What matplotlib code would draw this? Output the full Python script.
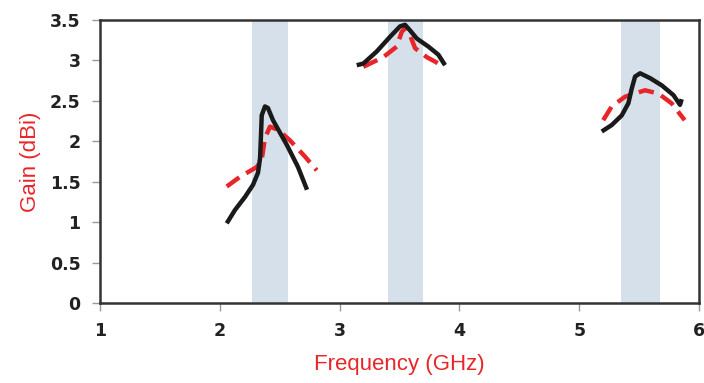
import matplotlib.pyplot as plt
import numpy as np

# Operating bands (GHz)
bands = [(2.27, 2.57), (3.40, 3.70), (5.35, 5.67)]

# Simulated gain (black solid), three segments
sim_f = [
    [2.058, 2.127, 2.210, 2.277, 2.319, 2.336, 2.344, 2.350, 2.377, 2.402,
     2.444, 2.561, 2.653, 2.728],
    [3.143, 3.198, 3.31, 3.42, 3.504, 3.546, 3.588, 3.644, 3.741, 3.824, 3.88],
    [5.188, 5.271, 5.355, 5.41, 5.438, 5.466, 5.508, 5.591, 5.689, 5.786,
     5.841, 5.855],
]
sim_g = [
    [0.985, 1.15, 1.31, 1.46, 1.61, 1.79, 2.08, 2.32, 2.43, 2.41,
     2.26, 1.95, 1.68, 1.40],
    [2.94, 2.96, 3.11, 3.29, 3.42, 3.44, 3.37, 3.27, 3.17, 3.07, 2.94],
    [2.12, 2.20, 2.32, 2.47, 2.65, 2.80, 2.84, 2.78, 2.69, 2.57,
     2.45, 2.52],
]

# Measured gain (red dashed), three segments
meas_f = [
    [2.058, 2.169, 2.308, 2.350, 2.377, 2.419, 2.488, 2.586, 2.711, 2.809],
    [3.198, 3.365, 3.477, 3.518, 3.546, 3.588, 3.63, 3.727, 3.852],
    [5.20, 5.271, 5.382, 5.549, 5.66, 5.77, 5.88],
]
meas_g = [
    [1.44, 1.56, 1.68, 1.77, 2.04, 2.18, 2.14, 2.01, 1.81, 1.64],
    [2.92, 3.04, 3.17, 3.35, 3.40, 3.31, 3.15, 3.04, 2.94],
    [2.26, 2.43, 2.55, 2.63, 2.59, 2.47, 2.26],
]

red = '#e8262a'

fig = plt.figure(figsize=(7.04, 3.83), dpi=100)
ax = fig.add_axes([0.142, 0.209, 0.851, 0.739])

for lo, hi in bands:
    ax.axvspan(lo, hi, ymax=0.995, color='#d5e0ea', zorder=0, lw=0)

for f, g in zip(meas_f, meas_g):
    ax.plot(f, g, color=red, lw=3.2, ls=(0, (3.5, 1.8)), zorder=2,
            dash_joinstyle='round')
for f, g in zip(sim_f, sim_g):
    ax.plot(f, g, color='#1a1a1a', lw=3.2, zorder=3,
            solid_joinstyle='round', solid_capstyle='butt')

ax.set_xlim(1, 6)
ax.set_ylim(0, 3.5)
ax.set_xticks([1, 2, 3, 4, 5, 6])
ax.set_yticks(np.arange(0, 3.51, 0.5))
ax.set_yticklabels(['0', '0.5', '1', '1.5', '2', '2.5', '3', '3.5'])

for s in ax.spines.values():
    s.set_color('#333333')
    s.set_linewidth(1.8)

ax.tick_params(axis='both', direction='out', length=6, width=1, color='#999999',
               labelsize=12.5, labelcolor='#222222', pad=8)
for lab in ax.get_xticklabels() + ax.get_yticklabels():
    lab.set_fontweight('bold')

ax.set_xlabel('Frequency (GHz)', color=red, fontsize=16, family='Liberation Sans', labelpad=10)
ax.set_ylabel('Gain (dBi)', color=red, fontsize=16, family='Liberation Sans', labelpad=6)

fig.savefig('out.png', dpi=100)
